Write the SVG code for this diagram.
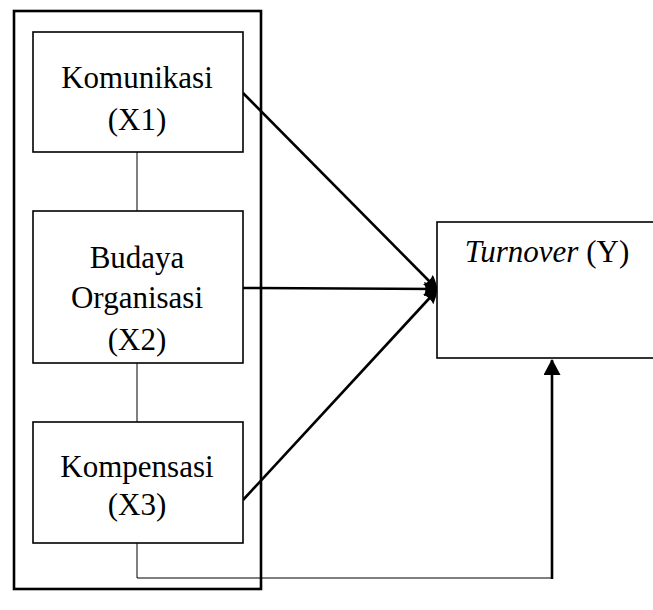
<svg xmlns="http://www.w3.org/2000/svg" width="653" height="610" viewBox="0 0 653 610">
<style>
.box{fill:#fff;stroke:#000;stroke-width:1.6}
.outer{fill:none;stroke:#000;stroke-width:2.6}
.t{font-family:"Liberation Serif","Times New Roman",serif;font-size:31px;fill:#000;text-anchor:middle}
.thin{fill:none;stroke:#000;stroke-width:1}
.arr{fill:none;stroke:#000;stroke-width:2.6}
</style>
<defs>
<marker id="ah2" markerWidth="16" markerHeight="17" refX="15" refY="8.5" orient="auto" markerUnits="userSpaceOnUse" viewBox="0 0 16 17">
<path d="M0,0 L16,8.5 L0,17 z" fill="#000"/>
</marker>
<marker id="ah3" markerWidth="14" markerHeight="14" refX="13" refY="7" orient="auto" markerUnits="userSpaceOnUse" viewBox="0 0 14 14">
<path d="M0,0 Q6,2 14,7 Q6,12 0,14 Q3,7 0,0 z" fill="#000"/>
</marker>
</defs>
<rect class="outer" x="14" y="11" width="247" height="578"/>
<g id="connectors">
<line class="thin" x1="137" y1="152" x2="137" y2="211"/>
<line class="thin" x1="137" y1="363" x2="137" y2="422"/>
<polyline class="thin" points="137,543 137,578 551,578"/>
<line class="arr" x1="552" y1="579" x2="552" y2="360" marker-end="url(#ah2)"/>
<line class="arr" x1="243" y1="93" x2="437" y2="289" marker-end="url(#ah3)"/>
<line class="arr" x1="243" y1="288" x2="437" y2="289" marker-end="url(#ah3)"/>
<line class="arr" x1="243" y1="500" x2="437" y2="290" marker-end="url(#ah3)"/>
</g>
<g id="x1">
<rect class="box" x="33" y="32" width="210" height="120"/>
<text class="t" x="137" y="88">Komunikasi</text>
<text class="t" x="137" y="130">(X1)</text>
</g>
<g id="x2">
<rect class="box" x="33" y="211" width="210" height="152"/>
<text class="t" x="137" y="268">Budaya</text>
<text class="t" x="137" y="308">Organisasi</text>
<text class="t" x="137" y="350">(X2)</text>
</g>
<g id="x3">
<rect class="box" x="33" y="422" width="210" height="121"/>
<text class="t" x="137" y="477">Kompensasi</text>
<text class="t" x="137" y="515">(X3)</text>
</g>
<g id="y">
<rect class="box" x="437" y="222" width="220" height="136"/>
<text class="t" x="547" y="262"><tspan font-style="italic">Turnover</tspan> (Y)</text>
</g>
</svg>
